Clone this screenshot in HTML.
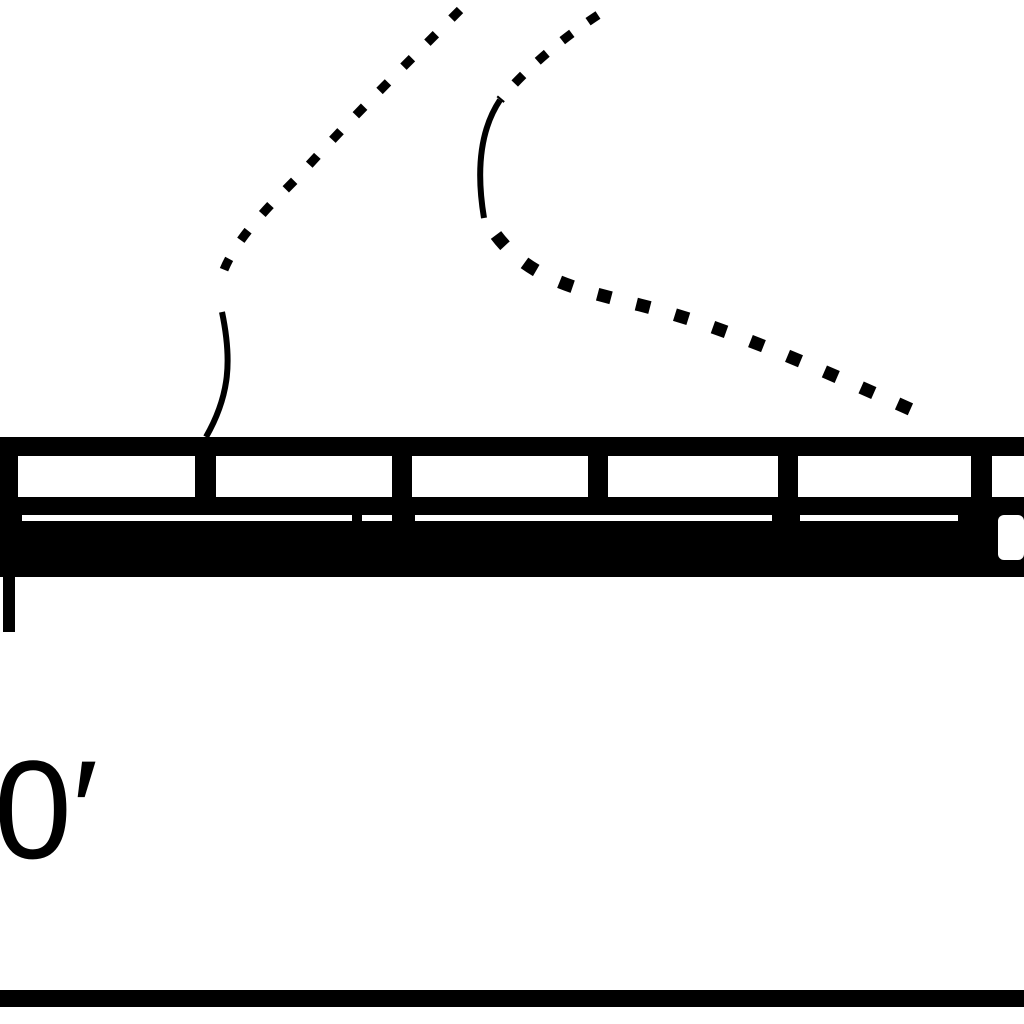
<!DOCTYPE html>
<html><head><meta charset="utf-8"><style>
html,body{margin:0;padding:0;background:#fff;width:1024px;height:1024px;overflow:hidden}
svg{display:block}
</style></head><body>
<svg width="1024" height="1024" viewBox="0 0 1024 1024">
<rect x="0" y="0" width="1024" height="1024" fill="#fff"/>
<g>
<rect x="0" y="437" width="1024" height="140" fill="#000"/>
<rect x="18" y="456" width="177" height="41" fill="#fff"/>
<rect x="216" y="456" width="176" height="41" fill="#fff"/>
<rect x="412" y="456" width="176" height="41" fill="#fff"/>
<rect x="608" y="456" width="170" height="41" fill="#fff"/>
<rect x="798" y="456" width="173" height="41" fill="#fff"/>
<rect x="992" y="456" width="32" height="41" fill="#fff"/>
<rect x="22" y="515" width="330" height="6" fill="#fff"/>
<rect x="362" y="515" width="30" height="6" fill="#fff"/>
<rect x="415" y="515" width="357" height="6" fill="#fff"/>
<rect x="800" y="515" width="158" height="6" fill="#fff"/>
<rect x="998" y="515" width="26" height="45" rx="6" fill="#fff"/>
<rect x="3" y="570" width="12" height="62" fill="#000"/>
</g>
<g fill="none" stroke="#000" stroke-width="6">
<path d="M460,10 C400,70 340,130 300,175 C260,215 225,250 218,290" stroke-dasharray="12,22" stroke-width="9"/>
<path d="M222,312 C232,360 230,395 206,437"/>
<path d="M598,15 C560,40 525,70 500,100" stroke-dasharray="12,20" stroke-width="9"/>
<path d="M500,100 C480,130 476,170 484,218"/>
<path d="M496,235 C530,280 580,290 640,305 C720,325 800,360 930,418" stroke-dasharray="14,26" stroke-width="13"/>
</g>
<text x="-6" y="858" font-family="Liberation Sans, sans-serif" font-size="140" fill="#000">0′</text>
<rect x="0" y="990" width="1024" height="17" fill="#000"/>
</svg>
</body></html>
